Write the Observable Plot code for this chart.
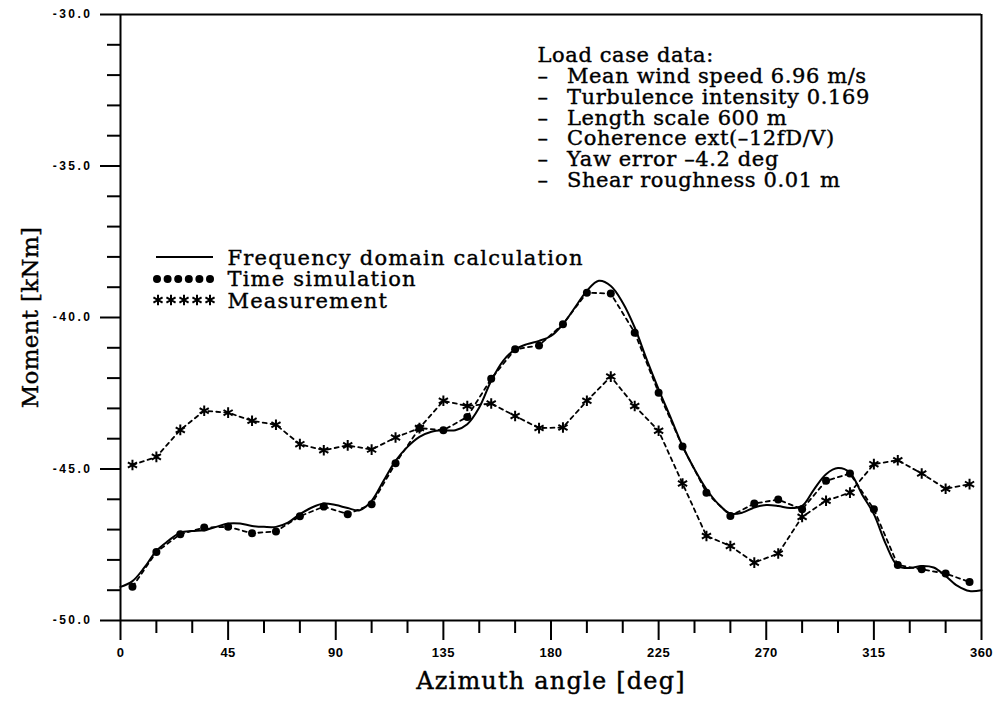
<!DOCTYPE html>
<html><head><meta charset="utf-8">
<script src="https://cdn.jsdelivr.net/npm/d3@7"></script>
<script src="https://cdn.jsdelivr.net/npm/@observablehq/plot@0.6"></script>
<style>
body{margin:0;background:#fff;}
#wrap{position:relative;width:994px;height:708px;}
</style></head><body><div id="wrap"></div>
<script>
// ---- data ----
const sampleAngles = [5,15,25,35,45,55,65,75,85,95,105,115,125,135,145,155,165,175,185,195,205,215,225,235,245,255,265,275,285,295,305,315,325,335,345,355];
const timeSimulation = [-48.89,-47.74,-47.15,-46.93,-46.91,-47.12,-47.06,-46.56,-46.24,-46.49,-46.16,-44.81,-43.65,-43.72,-43.28,-42.02,-41.05,-40.92,-40.22,-39.18,-39.21,-40.50,-42.48,-44.26,-45.78,-46.55,-46.14,-46.01,-46.33,-45.39,-45.15,-46.33,-48.17,-48.31,-48.45,-48.73];
const measurement = [-44.87,-44.60,-43.71,-43.08,-43.14,-43.41,-43.54,-44.18,-44.38,-44.22,-44.36,-43.96,-43.65,-42.75,-42.92,-42.84,-43.25,-43.65,-43.63,-42.75,-41.95,-42.92,-43.74,-45.48,-47.21,-47.54,-48.09,-47.79,-46.58,-46.05,-45.78,-44.84,-44.71,-45.15,-45.65,-45.50];
const freqAngles = [0,5,10,15,20,25,30,35,40,45,50,55,60,65,70,75,80,85,90,95,100,105,110,115,120,125,130,135,140,145,150,155,160,165,170,175,180,185,190,195,200,205,210,215,220,225,230,235,240,245,250,255,260,265,270,275,280,285,290,295,300,305,310,315,320,325,330,335,340,345,350,355,360];
const frequencyDomain = [-48.89,-48.70,-48.25,-47.70,-47.37,-47.10,-47.05,-47.02,-46.91,-46.80,-46.80,-46.88,-46.91,-46.91,-46.77,-46.49,-46.27,-46.14,-46.19,-46.29,-46.36,-46.05,-45.39,-44.73,-44.27,-43.94,-43.77,-43.72,-43.72,-43.52,-42.97,-42.09,-41.43,-41.05,-40.88,-40.77,-40.61,-40.22,-39.67,-39.12,-38.79,-38.96,-39.51,-40.33,-41.38,-42.37,-43.30,-44.24,-45.01,-45.67,-46.16,-46.47,-46.44,-46.27,-46.19,-46.22,-46.29,-46.22,-45.67,-45.17,-44.97,-45.12,-45.83,-46.49,-47.48,-48.20,-48.27,-48.20,-48.25,-48.53,-48.86,-49.03,-49.00];
const xMajorTicks = [0,45,90,135,180,225,270,315,360];
const xMinorTicks = [15,30,60,75,105,120,150,165,195,210,240,255,285,300,330,345];
const yMajorTicks = [-50,-45,-40,-35,-30];
const yMinorTicks = [-49,-48,-47,-46,-44,-43,-42,-41,-39,-38,-37,-36,-34,-33,-32,-31];
const legendLabels = ["Frequency domain calculation","Time simulation","Measurement"];
const loadCaseLines = ["Load case data:","– \u2002Mean wind speed 6.96 m/s","– \u2002Turbulence intensity 0.169","– \u2002Length scale 600 m","– \u2002Coherence ext(–12fD/V)","– \u2002Yaw error –4.2 deg","– \u2002Shear roughness 0.01 m"];
const xLabel = "Azimuth angle [deg]";
const yLabel = "Moment [kNm]";

const freqRows = freqAngles.map((a,i)=>({a, v:frequencyDomain[i]}));
const timeRows = sampleAngles.map((a,i)=>({a, v:timeSimulation[i]}));
const measRows = sampleAngles.map((a,i)=>({a, v:measurement[i]}));

const serif = "'DejaVu Serif', serif";
const sans = "'Liberation Sans', Arial, sans-serif";
const mL=120, mT=14;
const heavy = {fontFamily:serif, fill:"black", stroke:"black", strokeWidth:0.4};
const chart = Plot.plot({
  width:994, height:708,
  marginLeft:mL, marginRight:13, marginTop:mT, marginBottom:88,
  style:{background:"white", color:"black", fontFamily:serif, overflow:"visible"},
  x:{domain:[0,360]},
  y:{domain:[-50,-30]},
  marks:[
    Plot.axisX(xMinorTicks,{tickSize:13, tickFormat:()=>"", strokeWidth:2, label:null}),
    Plot.axisX(xMajorTicks,{tickSize:20, tickPadding:7, strokeWidth:2, label:null, tickFormat:d=>String(d),
      fontFamily:sans, fontWeight:"bold", fontSize:13}),
    Plot.axisY(yMinorTicks,{tickSize:13, tickFormat:()=>"", strokeWidth:2, label:null}),
    Plot.axisY(yMajorTicks,{tickSize:20, tickPadding:8, strokeWidth:2, label:null, tickFormat:d=>d.toFixed(1),
      fontFamily:sans, fontWeight:"bold", fontSize:12}),
    Plot.ruleX([0,360],{strokeWidth:2}),
    Plot.ruleY([-50,-30],{strokeWidth:2}),
    Plot.line(freqRows,{x:"a", y:"v", curve:"catmull-rom", strokeWidth:2}),
    Plot.line(timeRows,{x:"a", y:"v", strokeWidth:1.8, strokeDasharray:"4,4"}),
    Plot.dot(timeRows,{x:"a", y:"v", r:4, fill:"black"}),
    Plot.line(measRows,{x:"a", y:"v", strokeWidth:1.8, strokeDasharray:"4,4"}),
    Plot.dot(measRows,{x:"a", y:"v", r:5, symbol:"asterisk", stroke:"black", strokeWidth:2}),
    Plot.text([xLabel],{frameAnchor:"bottom", dy:68, fontSize:24, ...heavy}),
    Plot.text([yLabel],{frameAnchor:"left", textAnchor:"middle", dx:-90, rotate:-90, fontSize:23, ...heavy}),
    Plot.text([legendLabels.join("\n")],{frameAnchor:"top-left", dx:107, dy:249-mT, textAnchor:"start", lineAnchor:"top", lineHeight:1.02, fontSize:21, ...heavy}),
    Plot.text([loadCaseLines.join("\n")],{frameAnchor:"top-left", dx:537-mL, dy:47-mT, textAnchor:"start", lineAnchor:"top", lineHeight:0.99, fontSize:21, ...heavy})
  ]
});
document.getElementById("wrap").appendChild(chart);

const svg = d3.select(chart);
// letter spacing to mimic the wide plotter font
const textGroups = svg.selectAll('g[aria-label="text"]').nodes();
const spacing = [1.2, 0.3, 1.2, 0.6];
textGroups.forEach((n,i)=>{ n.style.letterSpacing = (spacing[i] ?? 0) + "px"; });
svg.selectAll('g[aria-label="y-axis tick label"]').style("letter-spacing","2.5px");
svg.selectAll('g[aria-label="x-axis tick label"]').style("letter-spacing","0.5px");

// legend samples (layout only)
const g = svg.append("g").attr("fill","black").attr("stroke","black");
g.append("line").attr("x1",156).attr("x2",213).attr("y1",257).attr("y2",257).attr("stroke-width",2);
[157,167.6,178.2,188.8,199.4,210].forEach(x=>{
  g.append("circle").attr("cx",x).attr("cy",279).attr("r",4).attr("stroke","none");
});
[158,171,184,197,210].forEach(x=>{
  g.append("path").attr("d",d3.symbol(d3.symbolAsterisk, Math.PI*25)()).attr("transform",`translate(${x},300)`).attr("fill","none").attr("stroke-width",2);
});
</script></body></html>
